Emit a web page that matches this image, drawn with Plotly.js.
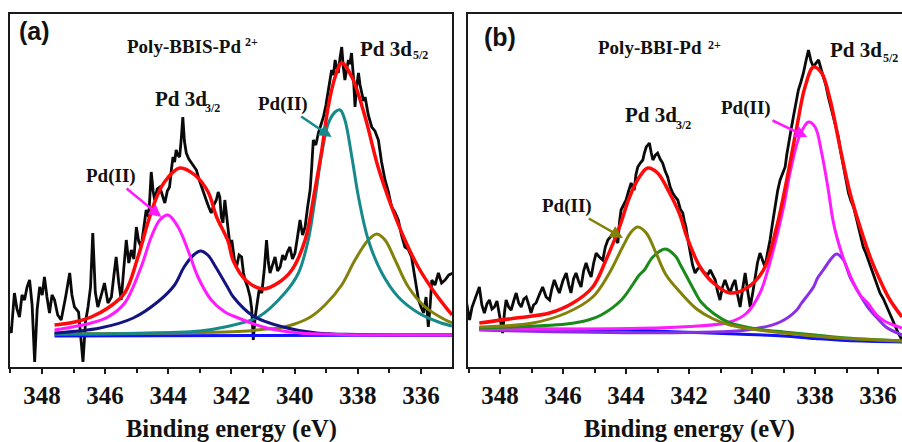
<!DOCTYPE html>
<html><head><meta charset="utf-8">
<script src="https://cdn.plot.ly/plotly-3.0.1.min.js"></script>
<style>html,body{margin:0;padding:0;background:#fff}#chart{width:902px;height:442px}</style>
</head><body><div id="chart"></div>
<script>
// ---- Panel (a): Poly-BBIS-Pd2+  [binding energy (eV), intensity (a.u.)] ----
const rawA = [[349.08,27],[349.02,40],[348.97,34],[348.92,55],[348.87,74],[348.79,58],[348.71,50],[348.63,72],[348.55,67],[348.47,80],[348.39,87],[348.31,62],[348.23,5],[348.15,58],[348.07,80],[347.99,72],[347.92,90],[347.84,70],[347.76,54],[347.68,72],[347.60,67],[347.50,52],[347.39,47],[347.25,70],[347.12,94],[347.05,72],[346.97,60],[346.84,55],[346.70,5],[346.62,45],[346.54,60],[346.46,80],[346.39,134],[346.31,75],[346.23,60],[346.12,72],[346.02,84],[345.91,64],[345.80,70],[345.72,92],[345.65,110],[345.57,85],[345.49,67],[345.41,98],[345.33,127],[345.25,104],[345.17,117],[345.09,108],[345.01,140],[344.94,126],[344.86,120],[344.78,138],[344.70,157],[344.62,150],[344.54,195],[344.48,176],[344.43,167],[344.35,178],[344.27,180],[344.19,172],[344.11,164],[344.03,176],[343.96,180],[343.90,198],[343.85,210],[343.80,205],[343.75,217],[343.70,212],[343.64,210],[343.59,228],[343.54,250],[343.49,226],[343.43,214],[343.35,208],[343.27,204],[343.19,200],[343.11,197],[343.03,188],[342.95,180],[342.87,172],[342.80,167],[342.72,160],[342.64,154],[342.56,162],[342.48,167],[342.42,175],[342.37,170],[342.32,150],[342.27,144],[342.21,167],[342.16,150],[342.10,136],[342.04,120],[341.99,127],[341.91,108],[341.84,100],[341.76,112],[341.68,110],[341.62,94],[341.57,87],[341.49,80],[341.41,70],[341.36,58],[341.31,27],[341.25,50],[341.20,60],[341.12,78],[341.04,74],[340.96,98],[340.89,127],[340.83,104],[340.78,94],[340.70,102],[340.62,110],[340.54,96],[340.46,100],[340.38,112],[340.31,107],[340.23,115],[340.15,120],[340.07,108],[339.99,114],[339.91,130],[339.83,147],[339.75,132],[339.67,140],[339.59,160],[339.51,177],[339.46,200],[339.41,227],[339.33,222],[339.25,234],[339.17,242],[339.09,250],[339.01,262],[338.93,277],[338.88,285],[338.83,297],[338.77,292],[338.72,307],[338.67,300],[338.62,294],[338.56,310],[338.51,320],[338.46,300],[338.41,287],[338.35,298],[338.30,307],[338.25,303],[338.20,314],[338.14,290],[338.09,260],[338.04,280],[337.98,294],[337.93,282],[337.88,274],[337.82,266],[337.77,270],[337.67,252],[337.56,240],[337.46,236],[337.35,227],[337.25,205],[337.14,187],[337.04,176],[336.93,160],[336.83,155],[336.72,147],[336.62,132],[336.51,120],[336.41,118],[336.30,110],[336.19,86],[336.08,67],[336.00,60],[335.92,54],[335.84,70],[335.77,40],[335.71,62],[335.66,87],[335.56,82],[335.45,94],[335.35,84],[335.24,87],[335.12,92],[334.98,94]];
const envelopeA = [[347.60,42],[346.96,45],[346.44,50],[345.91,59],[345.38,74],[344.96,110],[344.64,145],[344.38,169],[344.12,185],[343.64,199],[343.16,192],[342.74,175],[342.47,150],[342.11,126],[341.94,106],[341.52,86],[341.00,78],[340.53,84],[340.09,97],[339.67,127],[339.36,177],[339.14,217],[338.94,260],[338.72,290],[338.51,304],[338.19,290],[337.77,250],[337.36,200],[336.93,160],[336.51,127],[336.09,100],[335.56,74],[335.02,52]];
const pd2A_32 = [[347.60,37],[346.44,44],[345.91,50],[345.38,64],[344.86,100],[344.54,130],[344.27,147],[344.01,152],[343.69,140],[343.38,117],[343.06,90],[342.64,67],[342.21,55],[341.94,51],[340.88,39],[339.83,34],[338.50,32.5],[337.00,32],[335.02,32]];
const pdA_32 = [[347.60,34],[346.16,39],[345.11,49],[344.30,66],[343.80,82],[343.50,100],[343.20,112],[342.98,116],[342.75,112],[342.50,100],[342.11,79],[341.94,70],[341.31,51],[340.36,40],[339.30,34],[338.00,32.5],[335.02,32]];
const pd2A_52 = [[347.60,33],[345.10,33.5],[343.00,36],[342.21,40],[341.15,50],[340.31,74],[339.88,94],[339.57,127],[339.36,167],[339.14,214],[338.93,244],[338.72,255],[338.56,257],[338.41,247],[338.19,210],[337.98,170],[337.67,127],[337.24,94],[336.72,70],[336.08,54],[335.45,45],[335.02,41]];
const pdA_52 = [[347.60,33],[342.20,35],[341.50,36],[340.88,38],[340.50,39],[340.00,43],[339.50,50],[339.04,62],[338.51,82],[338.09,107],[337.67,127],[337.40,133],[337.14,127],[336.82,107],[336.40,80],[335.87,60],[335.34,49],[335.02,44]];
const baseA = [[347.60,31],[341.00,31.5],[335.02,32]];

// ---- Panel (b): Poly-BBI-Pd2+ ----
const rawB = [[349.08,67],[349.02,55],[348.97,47],[348.89,60],[348.81,67],[348.73,74],[348.66,80],[348.58,62],[348.50,54],[348.42,63],[348.34,67],[348.26,58],[348.18,60],[348.10,66],[348.02,50],[347.97,42],[347.92,34],[347.86,55],[347.81,67],[347.73,60],[347.65,57],[347.57,66],[347.49,74],[347.41,64],[347.33,60],[347.25,68],[347.17,70],[347.09,62],[347.02,54],[346.94,62],[346.86,64],[346.76,72],[346.65,80],[346.54,70],[346.43,67],[346.36,78],[346.28,87],[346.20,80],[346.12,74],[346.01,86],[345.90,94],[345.82,82],[345.75,74],[345.67,88],[345.59,94],[345.51,86],[345.43,80],[345.35,96],[345.27,104],[345.19,96],[345.11,90],[345.03,104],[344.95,114],[344.85,110],[344.74,107],[344.66,120],[344.58,127],[344.50,130],[344.42,134],[344.34,128],[344.26,124],[344.21,145],[344.16,157],[344.08,162],[344.00,167],[343.92,176],[343.84,184],[343.79,180],[343.74,177],[343.69,192],[343.63,200],[343.55,204],[343.47,207],[343.42,214],[343.36,220],[343.31,222],[343.26,224],[343.20,214],[343.15,207],[343.07,212],[343.00,214],[342.92,208],[342.84,204],[342.76,196],[342.68,190],[342.60,180],[342.52,174],[342.44,170],[342.36,167],[342.28,158],[342.20,154],[342.15,146],[342.10,140],[342.03,126],[341.97,114],[341.89,102],[341.81,94],[341.73,98],[341.65,100],[341.57,96],[341.49,94],[341.41,92],[341.33,97],[341.25,92],[341.17,87],[341.10,76],[341.02,67],[340.94,80],[340.86,87],[340.78,80],[340.70,74],[340.62,82],[340.54,87],[340.46,72],[340.38,60],[340.30,78],[340.22,94],[340.14,76],[340.06,60],[339.98,74],[339.91,87],[339.83,104],[339.75,114],[339.67,106],[339.59,100],[339.51,114],[339.43,127],[339.35,144],[339.27,160],[339.19,176],[339.11,187],[339.03,194],[338.95,200],[338.90,212],[338.85,220],[338.77,236],[338.69,250],[338.61,264],[338.53,277],[338.45,285],[338.37,294],[338.29,306],[338.21,317],[338.13,306],[338.05,300],[337.97,304],[337.89,307],[337.81,298],[337.74,290],[337.66,282],[337.58,270],[337.50,260],[337.42,250],[337.34,240],[337.26,230],[337.18,214],[337.10,200],[337.02,186],[336.94,174],[336.86,166],[336.78,160],[336.70,150],[336.62,140],[336.55,130],[336.47,120],[336.39,114],[336.31,107],[336.23,100],[336.15,94],[336.04,84],[335.94,74],[335.83,68],[335.72,60],[335.62,52],[335.51,44],[335.43,38],[335.36,34],[335.24,27]];
const envelopeB = [[348.66,44],[347.49,49],[346.43,54],[345.69,64],[345.06,80],[344.64,107],[344.21,140],[343.89,170],[343.58,190],[343.31,199],[343.00,194],[342.62,174],[342.29,152],[342.07,130],[341.65,100],[341.23,84],[340.70,74],[340.17,79],[339.64,97],[339.22,140],[338.90,187],[338.58,240],[338.32,280],[338.05,300],[337.79,294],[337.52,267],[337.21,220],[336.89,174],[336.57,140],[336.25,110],[335.94,87],[335.62,67],[335.24,50]];
const pd2B_32 = [[348.66,40],[346.96,44],[345.90,54],[345.06,70],[344.53,94],[344.11,120],[343.84,135],[343.63,140],[343.36,134],[343.05,114],[342.73,92],[342.29,75],[341.76,58],[341.23,48],[340.70,42],[340.03,38],[339.00,34],[338.05,31],[337.00,28.5],[335.24,26]];
const pdB_32 = [[348.66,39],[345.90,43],[345.20,47],[344.79,52],[344.15,67],[343.58,92],[343.42,97],[343.15,110],[342.75,118],[342.41,110],[342.29,103],[342.10,92],[341.76,72],[341.62,65],[341.20,53],[340.70,44],[340.03,39],[339.64,37],[339.00,35],[338.00,32],[337.00,29],[335.24,26]];
const pd2B_52 = [[348.66,38],[342.29,40],[340.70,45],[340.17,54],[339.75,74],[339.43,105],[339.00,160],[338.79,195],[338.48,232],[338.21,245],[338.00,240],[337.79,214],[337.58,177],[337.44,148],[337.31,130],[337.00,100],[336.57,72],[336.33,64],[336.04,52],[335.80,46],[335.51,42],[335.24,39]];
const pdB_52 = [[348.66,37],[340.17,37],[339.11,45],[338.58,57],[338.45,63],[338.05,80],[337.92,89],[337.74,97],[337.47,109],[337.32,113],[337.10,107],[336.89,90],[336.57,72],[336.33,60],[336.00,48],[335.75,40],[335.24,32]];
const baseB = [[348.66,38],[344.00,37],[342.30,35],[340.50,33],[339.00,31],[338.00,28.5],[337.00,26.5],[335.24,25]];

const tickVals = [348,346,344,342,340,338,336];
const xTitle = 'Binding energy (eV)';

function line(pairs, color, width, xa, ya, smooth) {
  return {
    type: 'scatter', mode: 'lines',
    x: pairs.map(p => p[0]), y: pairs.map(p => p[1]),
    xaxis: xa, yaxis: ya, hoverinfo: 'skip',
    line: smooth ? {color: color, width: width, shape: 'spline', smoothing: 1} : {color: color, width: width}
  };
}

const C = {black:'#0a0a0a', red:'#ff0a0a', magenta:'#ff1aff', navy:'#141480', teal:'#168a8a',
           olive:'#82820a', blue:'#1010ff', green:'#1a8a1a', violet:'#8a2eea'};

const traces = [
  line(rawA, C.black, 2.8, 'x', 'y', false),
  line(baseA, C.blue, 3, 'x', 'y', true),
  line(pdA_52, C.olive, 3, 'x', 'y', true),
  line(pd2A_52, C.teal, 3, 'x', 'y', true),
  line(pdA_32, C.navy, 3, 'x', 'y', true),
  line(pd2A_32, C.magenta, 3, 'x', 'y', true),
  line(envelopeA, C.red, 3.5, 'x', 'y', true),
  line(rawB, C.black, 2.8, 'x2', 'y2', false),
  line(baseB, C.blue, 3, 'x2', 'y2', true),
  line(pdB_52, C.violet, 3, 'x2', 'y2', true),
  line(pd2B_52, C.magenta, 3, 'x2', 'y2', true),
  line(pdB_32, C.green, 3, 'x2', 'y2', true),
  line(pd2B_32, C.olive, 3, 'x2', 'y2', true),
  line(envelopeB, C.red, 3.5, 'x2', 'y2', true)
];

const serif = 'Liberation Serif';
const frame = '#1a1a1a';
function xax(domain, range, anchor, mirror) {
  return {domain: domain, range: range, anchor: anchor, showline: true, mirror: mirror,
    linecolor: frame, linewidth: 2, ticks: 'outside', ticklen: 5, tickwidth: 2, tickcolor: frame,
    tickmode: 'array', tickvals: tickVals, ticktext: tickVals.map(String),
    tickfont: {family: serif, size: 25, color: '#111', weight: 'bold'},
    minor: {dtick: 1, tick0: 336, ticks: 'outside', ticklen: 4, tickwidth: 2, tickcolor: frame},
    showgrid: false, zeroline: false, fixedrange: true};
}
function yax(anchor, mirror) {
  return {domain: [0, 1], range: [0, 353], anchor: anchor, showline: true, mirror: mirror,
    linecolor: frame, linewidth: 2, showticklabels: false, ticks: '', showgrid: false, zeroline: false};
}

const lab = (text, x, y, size, family) => ({
  text: text, x: x, y: y, xref: 'paper', yref: 'paper', xanchor: 'left', yanchor: 'middle',
  showarrow: false, font: {family: family || serif, size: size, color: '#111', weight: 'bold'}
});
const mid = (text, x, y, size) => Object.assign(lab(text, x, y, size), {xanchor: 'center'});
// "Pd(II)" label carrying its own arrow: (x,y) = arrow tip, (ax,ay) = pixel offset to label centre
const pointer = (x, y, xr, yr, ax, ay, color) => ({
  text: 'Pd(II)', x: x, y: y, xref: xr, yref: yr, ax: ax, ay: ay, showarrow: true,
  arrowhead: 2, arrowsize: 1, arrowwidth: 2.5, arrowcolor: color, standoff: 0, startstandoff: 0,
  font: {family: serif, size: 19, color: '#111', weight: 'bold'}
});

const annotations = [
  lab('(a)', 0.0188, 0.9518, 25, 'Liberation Sans'),
  lab('Poly-BBIS-Pd', 0.1386, 0.9093, 19),
  lab('2+', 0.2694, 0.9207, 12),
  lab('Pd 3d', 0.3969, 0.9008, 21),
  lab('5/2', 0.4557, 0.8839, 12),
  lab('Pd 3d', 0.1696, 0.7592, 21),
  lab('3/2', 0.2251, 0.7337, 12),
  lab('(b)', 0.5344, 0.9348, 25, 'Liberation Sans'),
  lab('Poly-BBI-Pd', 0.6608, 0.9065, 19),
  lab('2+', 0.7827, 0.9122, 12),
  lab('Pd 3d', 0.918, 0.898, 21),
  lab('5/2', 0.9767, 0.8754, 12),
  lab('Pd 3d', 0.6907, 0.7139, 21),
  lab('3/2', 0.7472, 0.6856, 12),
  mid(xTitle, 0.2572, -0.1756, 24.5),
  mid(xTitle, 0.7639, -0.1756, 24.5),
  pointer(338.83, 230, 'x', 'y', -49, -33, C.teal),
  pointer(344.22, 150, 'x', 'y', -50, -41, C.magenta),
  pointer(338.25, 230, 'x2', 'y2', -61, -29, C.magenta),
  pointer(344.10, 129, 'x2', 'y2', -56, -32, C.olive)
];

const layout = {
  width: 902, height: 442,
  margin: {l: 0, r: 0, t: 14, b: 75, pad: 0},
  paper_bgcolor: '#ffffff', plot_bgcolor: '#ffffff',
  showlegend: false,
  xaxis: xax([10/902, 452/902], [349.01, 335.02], 'y', true),
  yaxis: yax('x', true),
  xaxis2: xax([468/902, 1], [349.02, 335.24], 'y2', true),
  yaxis2: yax('x2', false),
  annotations: annotations
};

Plotly.newPlot('chart', traces, layout, {staticPlot: true, displayModeBar: false});
</script>
</body></html>
